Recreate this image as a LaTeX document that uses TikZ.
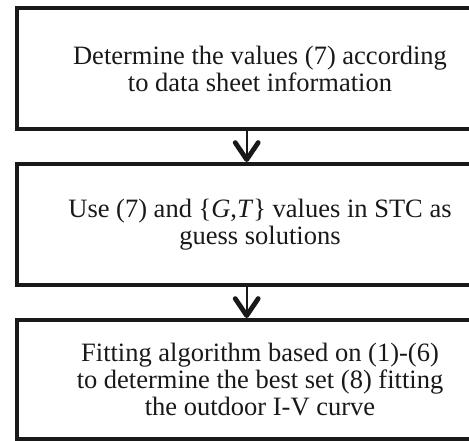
\documentclass[tikz,border=0pt]{standalone}
\usepackage{fontspec}
\setmainfont{Liberation Serif}
\usetikzlibrary{arrows.meta}
\tikzset{
  stepbox/.style={draw=black!90, line width=4pt, minimum width=486pt, minimum height=121pt,
    inner sep=0pt, outer sep=0pt, align=center,
    font=\fontsize{26.5}{27}\selectfont, text=black!90},
  flowarrow/.style={draw=black!90, line width=2pt,
    -{Straight Barb[length=17pt,width=23pt,line width=4.8pt,round]}}
}
\begin{document}
\begin{tikzpicture}[x=1pt,y=1pt]
\useasboundingbox (0,0) rectangle (469,441);
\node[stepbox] (b1) at (260,372.5) {Determine the values (7) according\\to data sheet information};
\node[stepbox] (b2) at (260,216.5) {Use (7) and \{\textit{G},\textit{T}\} values in STC as\\guess solutions};
\node[stepbox, minimum height=119pt] (b3) at (260,61.5) {Fitting algorithm based on (1)-(6)\\to determine the best set (8) fitting\\the outdoor I-V curve};
\draw[flowarrow] ([xshift=-13.3pt]b1.south) -- ([xshift=-13.3pt,yshift=2pt]b2.north);
\draw[flowarrow] ([xshift=-13.3pt]b2.south) -- ([xshift=-13.3pt,yshift=2pt]b3.north);
\end{tikzpicture}
\end{document}
